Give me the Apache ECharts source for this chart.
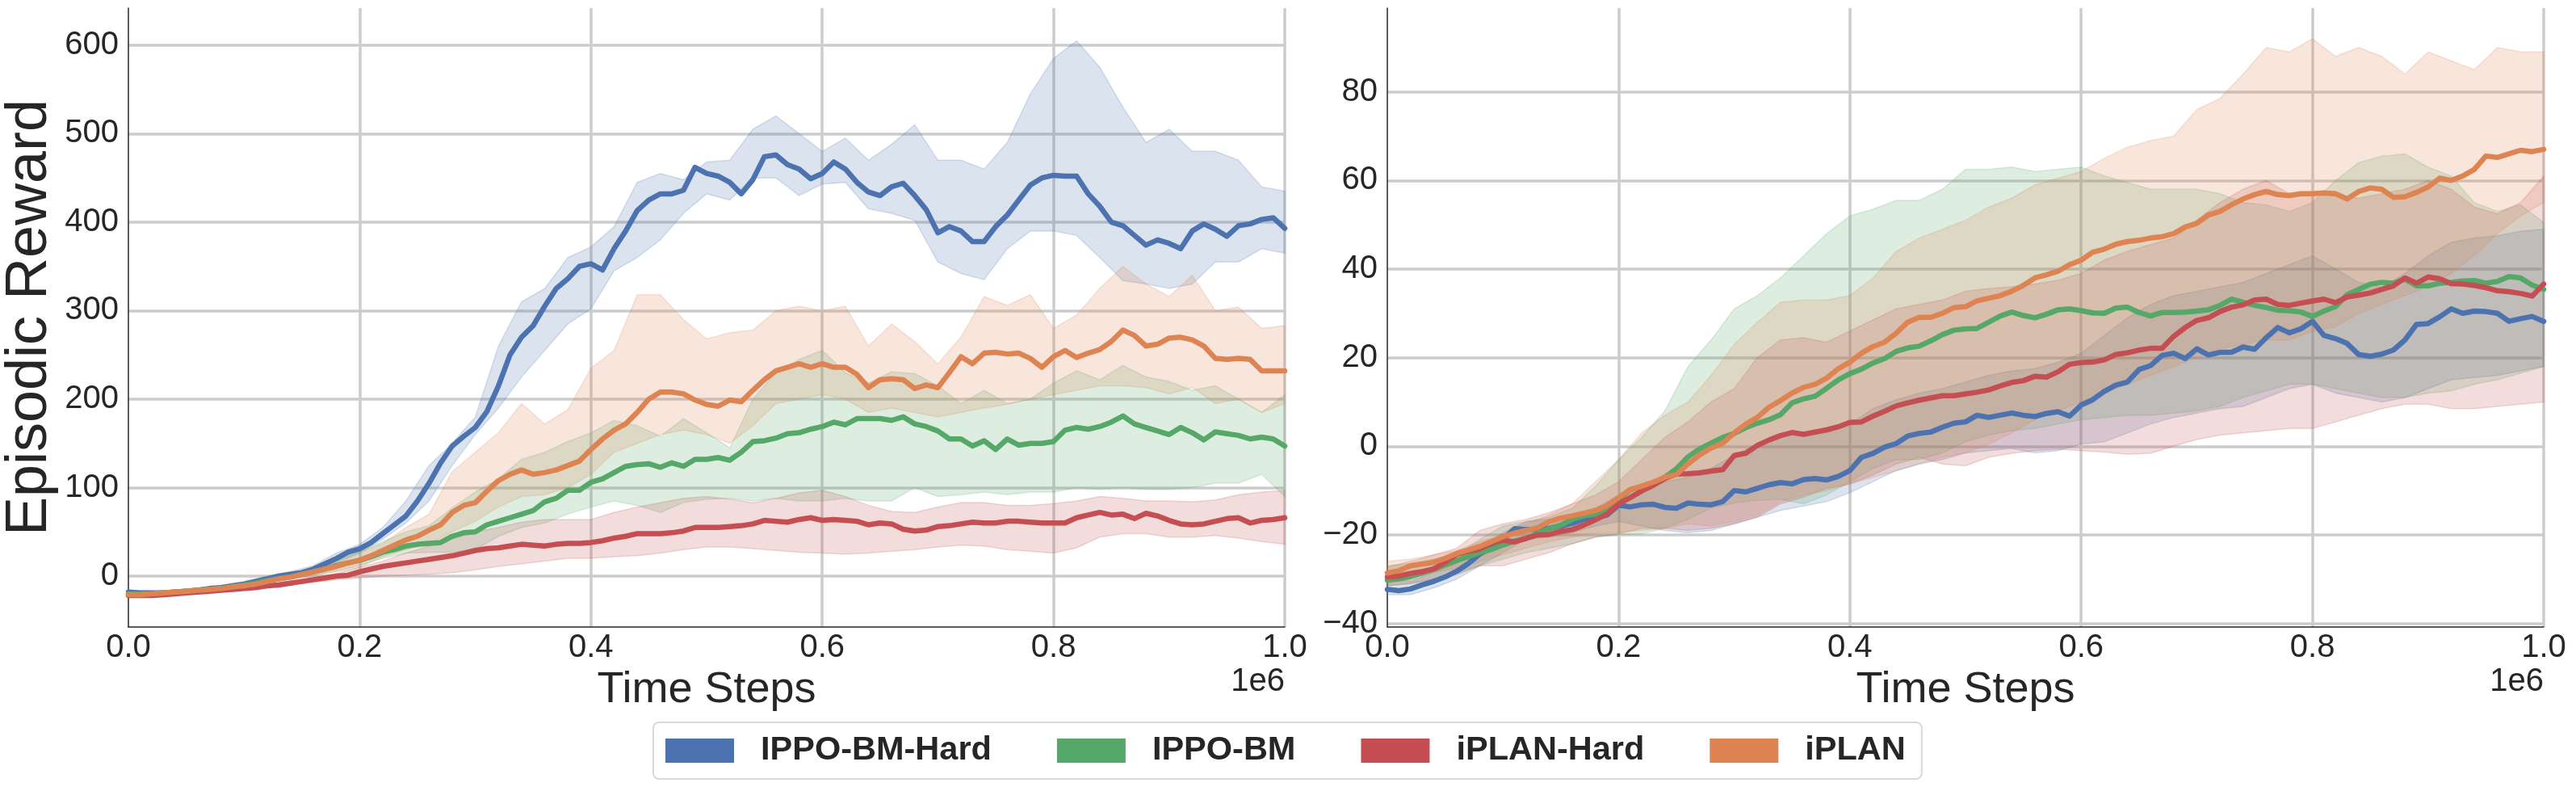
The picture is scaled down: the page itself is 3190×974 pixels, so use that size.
<!DOCTYPE html>
<html><head><meta charset="utf-8">
<script src="https://cdn.jsdelivr.net/npm/echarts@6/dist/echarts.min.js"></script>
<style>html,body{margin:0;padding:0;background:#fff}#c{width:3190px;height:974px}</style>
</head><body><div id="c"></div>
<script>
const SERIES_NAMES = ['IPPO-BM-Hard', 'IPPO-BM', 'iPLAN-Hard', 'iPLAN'];
const COLORS = ['#4C72B0', '#55A868', '#C44E52', '#DD8452'];
const X_AXIS_NAME = 'Time Steps';
const Y_AXIS_NAME = 'Episodic Reward';
const X_OFFSET_TEXT = '1e6';
// sample positions (in units of 1e6 steps)
const T = Array.from({length: 101}, (_, i) => +(i / 100).toFixed(2));
const TB = Array.from({length: 51}, (_, i) => +(i / 50).toFixed(2));

// ---------- Left panel ----------
const L_IPPO_HARD_MEAN = [-18,-19,-19,-19,-18,-17,-16,-14,-13,-11,-9, -6,-3,0,2,4,8,14,20,27,31, 38,48,58,68,85,105,128,147,158,168, 186,215,250,270,283,305,325,336,350,353, 346,370,390,413,425,432,432,436,462,455, 452,445,432,448,474,476,465,460,449,455, 468,460,445,434,430,440,444,430,414,388, 395,390,378,378,395,408,425,442,450,453, 452,452,432,418,400,396,385,374,380,376, 370,390,398,392,384,396,398,403,405,393];
const L_IPPO_HARD_LO = [-20,-21,-20,-18,-15,-11,-6,-1,4,15,26, 42,60,85,125,160,190,225,255,285,302, 345,360,380,410,432,425,450,450,430,443, 445,415,410,402,355,342,335,370,390,390, 385,360,334,330,325,330,355,355,370,365];
const L_IPPO_HARD_HI = [-16,-17,-16,-14,-11,-6,0,5,12,26,36, 55,85,125,150,180,260,310,325,360,372, 395,445,455,448,468,470,505,520,500,480, 495,470,488,510,470,470,460,490,545,585, 605,575,530,490,505,480,480,470,440,435];

const L_IPPO_MEAN = [-20,-20,-20,-19,-18,-17,-16,-15,-14,-12,-10, -8,-5,-3,-1,2,5,8,12,15,18, 22,27,30,34,36,37,38,45,49,50, 58,62,66,70,74,84,88,97,97,106, 110,117,124,126,127,123,128,124,132,132, 134,131,140,152,153,156,161,162,166,169, 174,171,178,178,178,176,180,172,169,164, 155,155,147,153,143,155,148,150,150,152, 165,168,166,169,174,181,172,168,164,160, 168,162,154,163,161,159,155,157,155,147];
const L_IPPO_LO = [-22,-22,-20,-18,-16,-12,-7,-3,1,6,12, 20,26,27,27,30,45,55,60,70,78, 85,80,72,83,87,88,85,88,85,85, 88,85,85,100,90,92,95,92,95,95, 100,98,100,98,98,100,105,105,115,90];
const L_IPPO_HI = [-18,-18,-16,-14,-12,-8,-3,2,9,18,28, 39,50,57,77,95,110,132,140,152,162, 176,170,158,178,162,145,200,230,245,255, 230,218,231,229,215,195,210,195,200,218, 232,222,238,225,220,210,215,200,185,205];

const L_IPLAN_HARD_MEAN = [-22,-22,-22,-21,-20,-19,-18,-17,-16,-15,-14, -13,-11,-10,-8,-6,-4,-2,0,1,5, 8,11,13,15,17,19,21,23,26,29, 31,32,34,36,35,34,36,37,37,38, 40,43,45,48,48,48,49,51,55,55, 55,56,57,59,63,62,61,64,66,63, 64,63,62,58,60,59,53,51,52,56, 57,59,61,60,60,62,62,61,60,60, 60,66,69,72,69,70,65,71,68,63, 59,58,59,62,65,66,60,63,64,66];
const L_IPLAN_HARD_LO = [-24,-24,-22,-20,-18,-16,-13,-10,-7,-4,-2, 0,1,2,4,7,11,14,17,20,20, 22,23,26,30,33,33,31,29,27,26, 25,26,28,30,33,35,34,30,28,26, 32,44,48,48,44,44,46,43,39,36];
const L_IPLAN_HARD_HI = [-20,-20,-18,-16,-14,-12,-9,-6,-2,3,10, 17,26,34,42,50,55,61,64,64,64, 72,78,83,88,90,87,83,88,94,97, 90,80,73,72,78,83,83,80,80,82, 85,90,88,85,85,84,86,92,95,97];

const L_IPLAN_MEAN = [-21,-21,-20,-19,-18,-17,-16,-15,-14,-12,-11, -9,-6,-3,-1,2,5,8,11,15,18, 23,29,35,41,45,52,58,72,80,83, 96,108,115,120,115,117,120,125,130,143, 155,165,172,185,200,208,208,206,199,194, 192,199,197,210,222,232,236,240,236,240, 236,236,228,213,222,223,222,212,216,213, 230,248,240,252,253,251,252,246,236,248, 255,247,252,256,265,278,272,260,262,269, 270,267,260,246,245,246,245,232,232,232];
const L_IPLAN_LO = [-23,-22,-20,-18,-16,-13,-9,-4,0,5,10, 22,30,36,50,62,78,90,92,100,115, 140,150,160,165,160,150,170,195,200,205, 200,185,190,185,180,185,190,194,200,205, 210,215,215,213,206,213,195,200,185,195];
const L_IPLAN_HI = [-19,-18,-16,-13,-11,-8,-3,3,9,17,27, 37,55,70,118,140,162,195,172,188,235, 255,318,318,290,268,275,278,300,305,300, 305,260,285,265,240,270,316,306,318,280, 295,325,350,330,316,340,300,304,280,283];

// ---------- Right panel ----------
const R_IPPO_HARD_MEAN = [-32.3,-32.6,-32.2,-31.3,-30.5,-29.5,-28.2,-26.5,-24.3,-23,-21, -18.6,-18.8,-18.8,-18.5,-18,-17.4,-16.5,-16.2,-15.5,-13.3, -13.7,-13.2,-13.1,-13.8,-14,-12.8,-13.1,-13.2,-12.5,-10, -10.3,-9.5,-8.7,-8.2,-8.5,-7.5,-7.3,-7.6,-6.8,-5.5, -2.5,-1.6,-0.2,0.6,2.3,2.9,3.2,4.3,5.2,5.5, 7,6.5,7,7.5,7,6.7,7.4,7.8,6.8,9.3, 10.5,12.4,13.8,14.5,17.3,18.2,20.5,21,19.8,22, 20.6,21.2,21.2,22.4,21.9,24.5,26.8,25.6,26.5,28.2, 25,24.3,23.2,20.7,20.3,20.8,21.7,24,27.5,27.7, 29.2,31,30,30.5,30.4,30,28.2,28.8,29.3,28.2];
const R_IPPO_HARD_LO = [-33.5,-33.5,-32,-30,-27,-24,-21,-20.5,-19.5,-18,-17, -18,-19,-19.5,-19,-17.5,-16,-14.5,-13.5,-12.5,-10.5, -8,-5.5,-4,-3,-1.5,-1,-0.5,-1.5,-1,0.5, 1,3,5,6.5,7.5,8.5,9,11,13,14, 12,11,10,11,13,15,15.5,16,17,18];
const R_IPPO_HARD_HI = [-30,-30.5,-28.5,-26.5,-23,-19.5,-17,-16.5,-15.5,-14,-11, -9,-8,-7,-5,-2,0.5,2.5,3,3.5,5, 8.5,10.5,12,13,14.5,16,17,17.5,19,21, 25,29,32,34,35,36,37,39,41,43, 40,37,36,39,43,46,47,47.5,48.5,49];

const R_IPPO_MEAN = [-30.2,-29.9,-29.4,-28.6,-27.8,-26.8,-25.8,-24.9,-24,-23.3,-22.3, -21.4,-20.8,-19.7,-18.6,-17.8,-16.5,-15.7,-15.3,-14.5,-12, -9.8,-9.1,-8.5,-7,-5.1,-2.4,-0.6,0.7,2,2.9, 4.2,5.2,6,7.1,9.8,10.7,11.3,13.1,15,16.4, 17.4,18.8,19.8,21.4,22.2,22.6,23.8,25.2,26.2,26.5, 26.6,28,29.4,30.3,29.5,29,29.8,30.8,31,30.6, 30.1,30,31.2,31.4,30.2,29.4,30.2,30.2,30.3,30.5, 30.8,31.8,33.2,32.5,31.8,31.3,30.7,30.6,30.3,29.3, 30.5,31.5,34.2,35.4,36.6,37,36.8,37.7,36.2,36.2, 36.8,37,37.3,37.4,36.8,37.2,38.3,38,36.4,35.4];
const R_IPPO_LO = [-31.5,-31,-30,-28.5,-27,-25.5,-24,-23,-22,-20.5,-20, -19.8,-18.5,-16.5,-14,-12.8,-12.2,-12,-13,-11,-8, -5,-3,-3,-1.5,1,2.5,3.5,4,5,6, 6.5,7,7,7.5,8,9,11,12.5,14,14, 13,12,11,11,12,12.5,14,15,16.5,18];
const R_IPPO_HI = [-27,-26.5,-25.5,-24.5,-21,-18,-17,-16,-14,-9,-3, 2,8,18,24,31,34,38,43,48,52, 53.5,55.5,55.5,58,62.5,62.5,63,62,62.5,63, 61,59.5,58,58,58,57,55,54.5,53,55, 60,64,65.5,66,63,61,55,53,54.5,50.5];

const R_IPLAN_HARD_MEAN = [-29.5,-29.3,-28.7,-28.3,-27.7,-26.2,-24.4,-23.7,-23.2,-21.8,-21.2, -21.6,-20.8,-20,-19.9,-19.2,-18.8,-17.8,-16.6,-15.3,-13, -11.6,-10.1,-8.8,-7.3,-6.3,-6.2,-6,-5.6,-5.3,-2.1, -1.6,0.2,1.4,2.4,3.1,2.7,3.2,3.7,4.4,5.4, 5.5,6.8,7.9,9.1,9.8,10.4,10.9,11.4,11.4,11.8, 12.2,12.7,13.6,14.4,14.8,15.8,15.6,16.8,18.5,18.9, 19,19.5,20.7,21.1,21.7,22.1,22.1,24.8,26.8,28.4, 29,30.4,31.4,31.9,33,33.2,32,31.8,32.3,32.8, 33.2,32.4,33.7,34.1,34.6,35.4,36.2,38,36.8,38.2, 37.8,36.7,36.6,36.3,35.8,35.1,34.9,34.5,33.9,36.6];
const R_IPLAN_HARD_LO = [-31.5,-31,-30,-29,-27,-27,-25.5,-24,-22,-20.5,-19.8, -18.5,-18.5,-19,-18.5,-17.5,-16,-13,-11.5,-9.5,-8.5, -6.5,-4,-2.5,-4,-4.4,-2.5,-1.6,-1,-0.7,-1, -1.3,-1.8,-1.6,0,1.5,2.5,3,3.5,4,4, 5.5,7,8.5,9.5,9.5,8.5,8.5,9,9.5,10];
const R_IPLAN_HARD_HI = [-27.2,-26,-24.5,-23,-19,-17.5,-16.5,-15,-13,-11,-8, -3,2,5.5,10,13,20,24,24.5,23.5,26, 28.5,31,32,33,35,35.6,36,36.6,37.5,39, 42,44,45.5,47,51,55,58,60,57,57, 56.5,56,57,58,60,58,54,52.5,55,61];

const R_IPLAN_MEAN = [-28.6,-28.1,-27,-26.6,-26.2,-25.3,-24.2,-23.4,-22.6,-21.5,-20.4, -19.6,-19,-18.4,-17,-16.2,-15.7,-15.1,-14.5,-13.4,-11.6, -9.8,-9,-8.1,-7,-6.4,-4,-2,-0.4,0.7,3, 5,6.5,8.8,10.3,12,13.3,14,15.4,17.5,19, 21,22.5,23.5,25.5,28,29.1,29.1,30,31.3,31.5, 32.8,33.4,34,35,36.3,38,38.7,39.5,41,42, 43.8,44.5,45.6,46.2,46.5,47,47.3,48,49.5,50.3, 52.2,53,54.5,55.8,56.8,57.5,56.8,56.6,57,57, 57.2,57,55.8,57.5,58.3,58,56.2,56.3,57.3,58.5, 60.5,60,61,62.5,65.5,65.2,66,66.8,66.5,67];
const R_IPLAN_LO = [-31,-30,-28.5,-27.5,-26,-24.5,-23,-21.5,-20.5,-19.5,-19.5, -19,-18.5,-17.5,-18,-17,-15.5,-12.5,-11,-10,-8.5, -7,-5.5,-4,-2.5,-1.5,0.5,3,6,8,10, 12,14,16,18,20,22,23,24,24,26, 27,30,32,34,36,39,43,48,52,55];
const R_IPLAN_HI = [-26,-25.5,-24.5,-23.5,-21.5,-20,-17.5,-15.5,-13,-8,-3, 3,7,10,16,23,28,32.5,33,33,34, 38,44,47,49,51,54,56,59,60.5,62, 65,67.5,69,70,76,78.5,84,90,89,92, 88,90,88,84,89,87,85,90,89,89];

// ---------- chart ----------
const FONT = '"Liberation Sans", Arial, sans-serif';
const TXT = '#262626';
const GRIDC = '#cccccc';
function rgba(hex, a) {
  const n = parseInt(hex.slice(1), 16);
  return `rgba(${(n >> 16) & 255},${(n >> 8) & 255},${n & 255},${a})`;
}
const PANELS = [
  { means: [L_IPPO_HARD_MEAN, L_IPPO_MEAN, L_IPLAN_HARD_MEAN, L_IPLAN_MEAN],
    lo: [L_IPPO_HARD_LO, L_IPPO_LO, L_IPLAN_HARD_LO, L_IPLAN_LO],
    hi: [L_IPPO_HARD_HI, L_IPPO_HI, L_IPLAN_HARD_HI, L_IPLAN_HI] },
  { means: [R_IPPO_HARD_MEAN, R_IPPO_MEAN, R_IPLAN_HARD_MEAN, R_IPLAN_MEAN],
    lo: [R_IPPO_HARD_LO, R_IPPO_LO, R_IPLAN_HARD_LO, R_IPLAN_LO],
    hi: [R_IPPO_HARD_HI, R_IPPO_HI, R_IPLAN_HARD_HI, R_IPLAN_HI] }
];

const series = [];
PANELS.forEach((p, pi) => {
  p.lo.forEach((lo, k) => {
    const hi = p.hi[k];
    series.push({
      type: 'custom', xAxisIndex: pi, yAxisIndex: pi, z: 1, silent: true, animation: false,
      data: TB.map((t, i) => [t, lo[i], hi[i]]),
      encode: { x: 0, y: [1, 2] },
      renderItem: (params, api) => {
        if (params.dataIndex !== 0) return null;
        const pts = [];
        for (let i = 0; i < TB.length; i++) pts.push(api.coord([TB[i], hi[i]]));
        for (let i = TB.length - 1; i >= 0; i--) pts.push(api.coord([TB[i], lo[i]]));
        return { type: 'polygon', shape: { points: pts },
          style: { fill: rgba(COLORS[k], 0.2), stroke: rgba(COLORS[k], 0.2), lineWidth: 1.5 } };
      }
    });
  });
});
PANELS.forEach((p, pi) => {
  p.means.forEach((m, k) => {
    series.push({
      type: 'line', name: SERIES_NAMES[k], xAxisIndex: pi, yAxisIndex: pi, z: 5,
      data: T.map((t, i) => [t, m[i]]), symbol: 'none', animation: false,
      lineStyle: { width: 6.5, color: COLORS[k], join: 'round', cap: 'round' },
      itemStyle: { color: COLORS[k] }, emphasis: { disabled: true }
    });
  });
});

const xAxisBase = (gi) => ({
  type: 'value', gridIndex: gi, min: 0, max: 1, interval: 0.2,
  name: X_AXIS_NAME, nameLocation: 'middle', nameGap: 44,
  nameTextStyle: { fontSize: 54, color: TXT, fontFamily: FONT },
  axisLine: { show: true, onZero: false, lineStyle: { color: TXT, width: 1.5 } },
  axisTick: { show: false },
  axisLabel: { fontSize: 40, color: TXT, fontFamily: FONT, margin: 6, formatter: v => v.toFixed(1) },
  splitLine: { show: true, showMinLine: false, lineStyle: { color: GRIDC, width: 3.5 } }
});
const yFmt = v => (Math.abs(v - Math.round(v)) < 1e-6 ? String(Math.round(v)).replace('-', '\u2212') : '');
const yAxisBase = (gi, min, max) => ({
  type: 'value', gridIndex: gi, min: min, max: max, splitNumber: 7,
  axisLine: { show: true, onZero: false, lineStyle: { color: TXT, width: 1.5 } },
  axisTick: { show: false },
  axisLabel: { fontSize: 40, color: TXT, fontFamily: FONT, margin: 12, formatter: yFmt,
               showMinLabel: false, showMaxLabel: false },
  splitLine: { show: true, showMinLine: false, showMaxLine: false, lineStyle: { color: GRIDC, width: 3.5 } }
});

const yLeft = yAxisBase(0, -57.5, 641.9);
yLeft.name = Y_AXIS_NAME;
yLeft.nameLocation = 'middle';
yLeft.nameRotate = 90;
yLeft.nameGap = 86;
yLeft.nameTextStyle = { fontSize: 72, color: TXT, fontFamily: FONT };

const option = {
  backgroundColor: '#ffffff',
  animation: false,
  grid: [
    { left: 159, top: 10, width: 1432, height: 766 },
    { left: 1718, top: 10, width: 1432, height: 766 }
  ],
  xAxis: [xAxisBase(0), xAxisBase(1)],
  yAxis: [yLeft, yAxisBase(1, -40.8, 98.9)],
  legend: {
    data: SERIES_NAMES.map(n => ({ name: n, icon: 'rect' })),
    left: 809, top: 894, orient: 'horizontal',
    itemWidth: 85, itemHeight: 30, itemGap: 81, selectedMode: false,
    padding: [14, 20, 14, 15],
    backgroundColor: '#ffffff', borderColor: '#d9d9d9', borderWidth: 2, borderRadius: 7,
    textStyle: { fontSize: 41.5, fontWeight: 'bold', color: TXT, fontFamily: FONT, padding: [0, 0, 0, 28] }
  },
  graphic: [
    { type: 'text', right: 3190 - 1591, top: 824, style: { text: X_OFFSET_TEXT, font: `40px ${FONT}`, fill: TXT } },
    { type: 'text', right: 3190 - 3150, top: 824, style: { text: X_OFFSET_TEXT, font: `40px ${FONT}`, fill: TXT } }
  ],
  series: series
};
const chart = echarts.init(document.getElementById('c'));
chart.setOption(option);
</script>
</body></html>
